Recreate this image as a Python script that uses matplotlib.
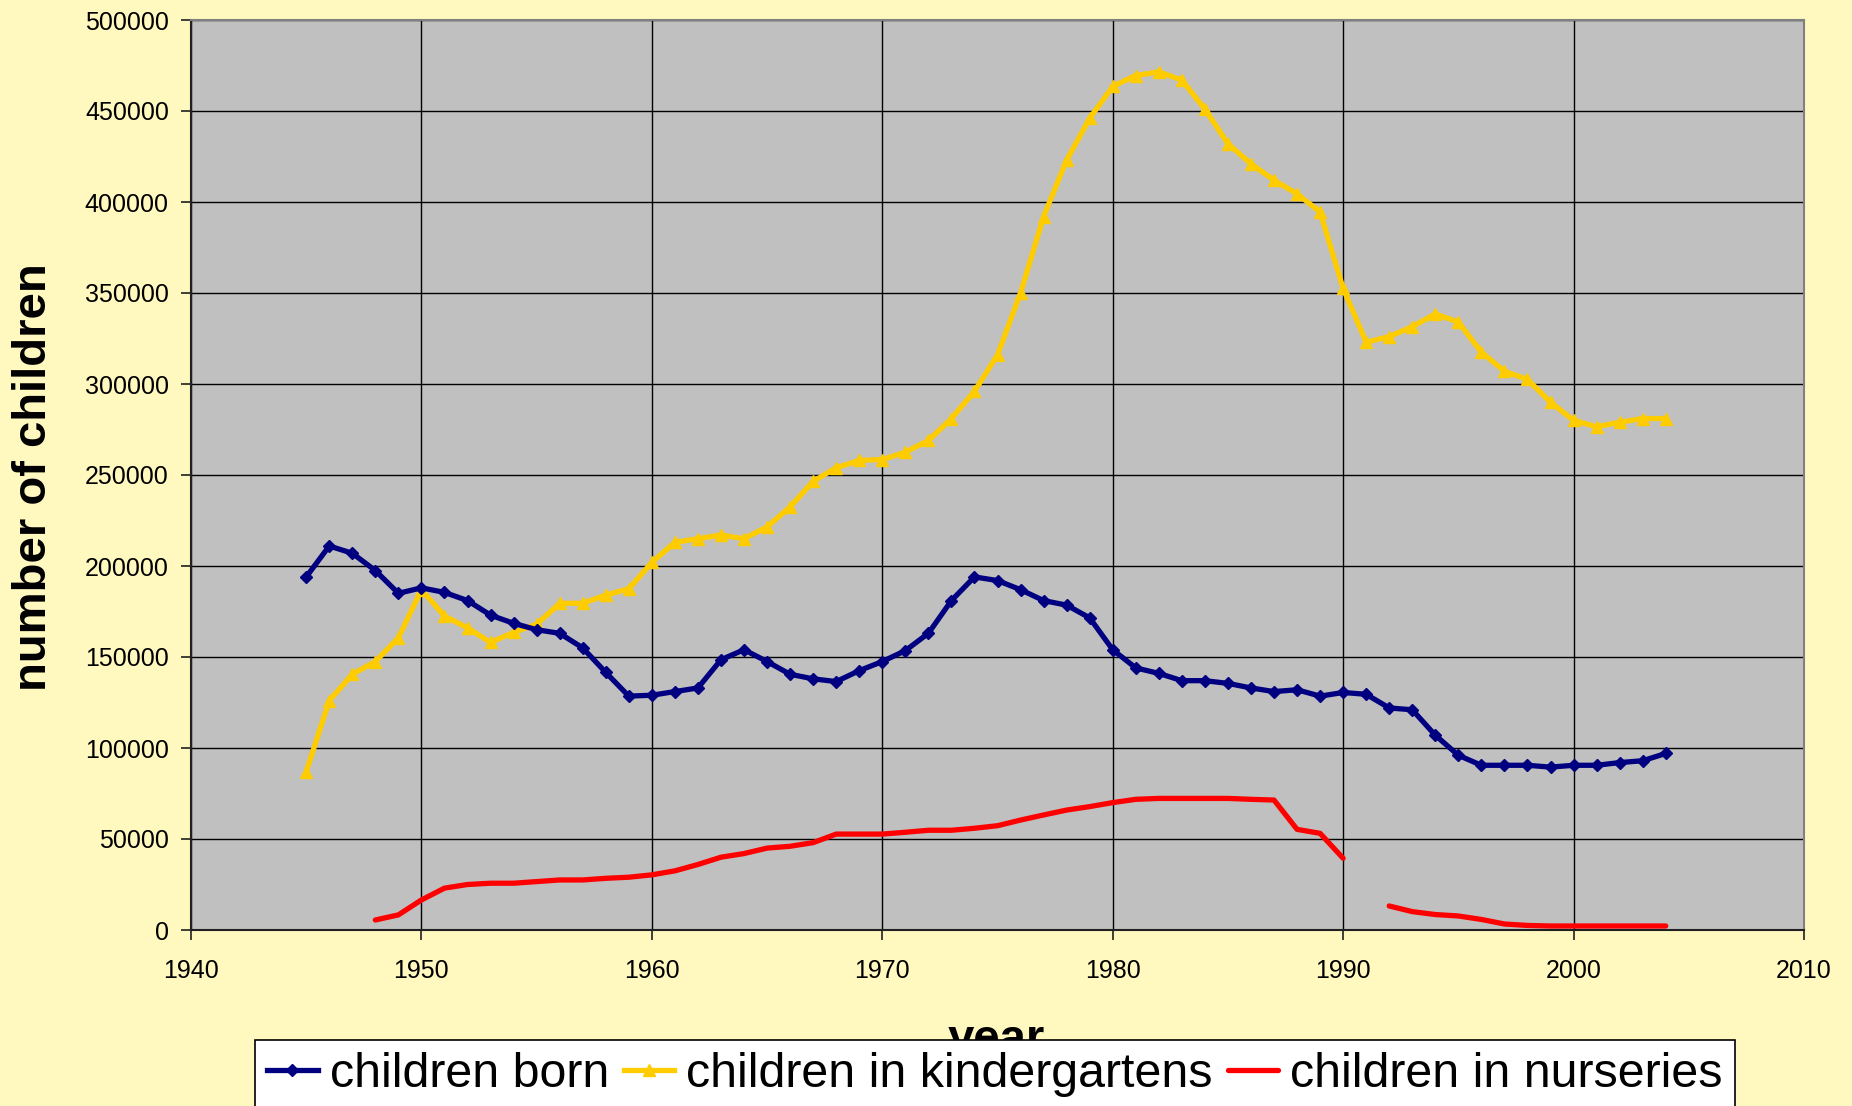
#!/usr/bin/env python3
"""Children born, in kindergartens and in nurseries per year (1945-2004)."""

import matplotlib

matplotlib.use("Agg")
import matplotlib.pyplot as plt
import numpy as np

FONT = ["Liberation Sans", "Arial", "DejaVu Sans"]
BG_COLOR = "#FFF8BF"
PLOT_COLOR = "#C0C0C0"
BORN_COLOR = "#000080"
KINDER_COLOR = "#FFCC00"
NURSERY_COLOR = "#FF0000"

plt.rcParams.update({"font.family": "sans-serif", "font.sans-serif": FONT})

years = list(range(1945, 2005))

children_born = [
    194000, 211000, 207000, 197500, 185000, 188000, 185500, 181000, 173000, 168500,
    165000, 163000, 155000, 141500, 128500, 129000, 131000, 133000, 148500, 154000,
    147500, 140500, 138000, 136500, 142500, 147500, 153500, 163000, 181000, 194000,
    192000, 187000, 181000, 178500, 171500, 154000, 144000, 141000, 137000, 137000,
    135500, 133000, 131000, 132000, 128500, 130500, 129500, 122000, 121000, 107000,
    96000, 90500, 90500, 90500, 89500, 90500, 90500, 92000, 93000, 97000,
]

children_kindergarten = [
    87000, 126000, 140500, 147500, 160500, 187000, 172500, 166000, 158000, 163500,
    168000, 179500, 179500, 184000, 187500, 202000, 213000, 215000, 217000, 215000,
    221500, 232500, 246500, 254000, 258000, 258500, 262500, 269000, 281000, 296000,
    316000, 350000, 392000, 423000, 446000, 463500, 469500, 471500, 467000, 451000,
    432000, 421000, 412000, 404500, 394500, 352500, 323000, 326000, 331500, 338500,
    334000, 317500, 307000, 302500, 290000, 280000, 276500, 279000, 281000, 281000,
]

# no nursery figures before 1948 and for 1991
children_nursery = [
    np.nan, np.nan, np.nan, 5500, 8300, 16500, 23000, 25000, 25700, 25700,
    26600, 27500, 27500, 28400, 29000, 30300, 32500, 36000, 40000, 42000,
    45000, 46000, 48000, 52700, 52700, 52700, 53700, 54800, 54800, 55900,
    57300, 60400, 63200, 65900, 67800, 70000, 71800, 72300, 72300, 72300,
    72300, 71800, 71400, 55300, 53100, 39400, np.nan, 13200, 10100, 8500,
    7700, 5800, 3300, 2500, 2200, 2200, 2200, 2200, 2200, 2200,
]

x_ticks = list(range(1940, 2011, 10))
y_ticks = list(range(0, 500001, 50000))


def main():
    fig = plt.figure(figsize=(18.52, 11.06), dpi=100, facecolor=BG_COLOR)
    ax = fig.add_axes([191 / 1852, 1 - 930 / 1106, (1804 - 191) / 1852, (930 - 20) / 1106])
    ax.set_facecolor(PLOT_COLOR)

    ax.plot(years, children_born, color=BORN_COLOR, lw=3.8, marker="D",
            markersize=6.5, label="children born", zorder=4)
    ax.plot(years, children_kindergarten, color=KINDER_COLOR, lw=3.8, marker="^",
            markersize=8, label="children in kindergartens", zorder=3)
    ax.plot(years, children_nursery, color=NURSERY_COLOR, lw=3.8,
            label="children in nurseries", zorder=3, solid_capstyle="round")

    ax.set_xlim(1940, 2010)
    ax.set_ylim(0, 500000)
    ax.set_xticks(x_ticks)
    ax.set_yticks(y_ticks)
    ax.set_xticklabels([str(v) for v in x_ticks])
    ax.set_yticklabels([str(v) for v in y_ticks])
    ax.tick_params(axis="both", labelsize=18, length=7, width=1.2, color="#202020", direction="out")
    ax.tick_params(axis="x", pad=14)
    ax.tick_params(axis="y", pad=9)

    ax.grid(True, color="black", linewidth=1.0)
    ax.set_axisbelow(True)
    for side in ("left", "bottom"):
        ax.spines[side].set_color("#202020")
        ax.spines[side].set_linewidth(1.5)
    for side in ("top", "right"):
        ax.spines[side].set_color("#808080")
        ax.spines[side].set_linewidth(1.5)

    # axis titles placed in figure pixels (the x title sits partly behind the legend)
    fig.text(34 / 1852, 1 - 477 / 1106, "number of children", rotation=90, fontsize=34,
             fontweight="bold", ha="center", va="center")
    fig.text(996 / 1852, 1 - 1040 / 1106, "year", fontsize=34, fontweight="bold",
             ha="center", va="center")

    leg = fig.legend(
        loc="upper left",
        bbox_to_anchor=(255 / 1852, 1 - 1040 / 1106),
        ncol=3,
        fontsize=34.8,
        frameon=True,
        fancybox=False,
        edgecolor="black",
        facecolor="white",
        framealpha=1.0,
        handlelength=1.05,
        handletextpad=0.25,
        columnspacing=0.3,
        borderpad=0.25,
        borderaxespad=0,
    )
    leg.get_frame().set_linewidth(1.2)
    leg.set_zorder(10)

    fig.savefig("out.png", dpi=100, facecolor=BG_COLOR)
    plt.close(fig)


if __name__ == "__main__":
    main()
